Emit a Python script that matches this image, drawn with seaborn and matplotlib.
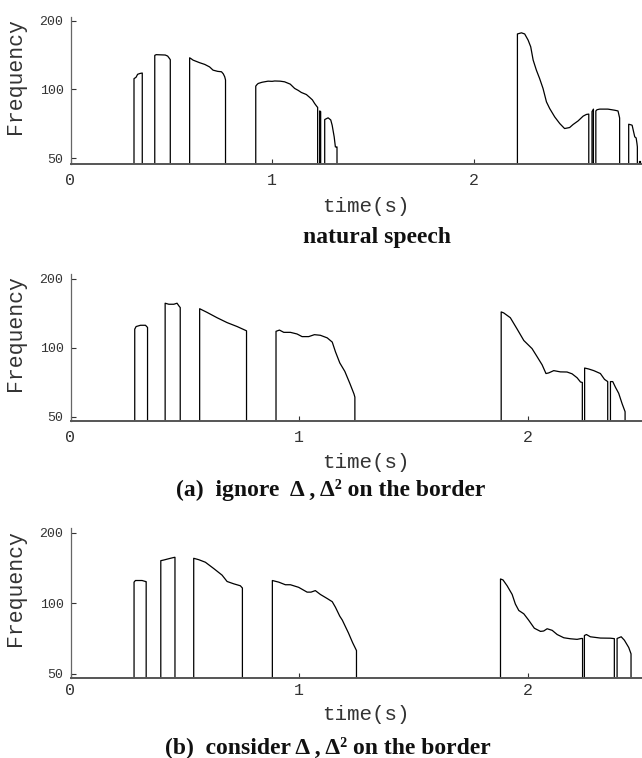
import numpy as np
import pandas as pd
import matplotlib
matplotlib.use("Agg")
import matplotlib.pyplot as plt
import seaborn as sns
from matplotlib.ticker import FixedLocator, FixedFormatter, NullLocator

# ---------------- data (voiced F0 segments, time in s, frequency in Hz) -------------
nat_t = [
    [0.315, 0.325, 0.333, 0.345, 0.356],
    [0.418, 0.425, 0.470, 0.482, 0.490, 0.495],
    [0.591, 0.600, 0.608, 0.640, 0.666, 0.690, 0.707, 0.730, 0.749, 0.758, 0.765, 0.769],
    [0.919, 0.925, 0.931, 0.950, 0.980, 1.000, 1.013, 1.040, 1.062, 1.090, 1.112, 1.130,
     1.145, 1.170, 1.187, 1.200, 1.211, 1.223, 1.226],
    [1.236, 1.241],
    [1.261, 1.270, 1.278, 1.291, 1.298, 1.308, 1.314, 1.320, 1.322],
    [2.217, 2.237, 2.253, 2.270, 2.283, 2.295, 2.311, 2.327, 2.344, 2.361, 2.377, 2.402,
     2.427, 2.451, 2.476, 2.493, 2.518, 2.543, 2.559, 2.571],
    [2.587, 2.594],
    [2.606, 2.612, 2.625, 2.645, 2.666, 2.699, 2.716, 2.721, 2.724],
    [2.769, 2.780, 2.786, 2.799, 2.806, 2.810, 2.812],
    [2.822, 2.826],
]
nat_f = [
    [111.5, 113, 116.5, 117.5, 118],
    [141, 142, 141.5, 140, 137, 135],
    [137.6, 136, 134.4, 131, 128.7, 125.5, 121.5, 120, 119.5, 117, 113.6, 110],
    [103.4, 105, 106.2, 107.5, 108.7, 108.5, 108.9, 108.7, 108, 105.5, 101, 99,
     97, 95, 92.2, 90, 86.8, 84, 83.5],
    [80.5, 80],
    [73.8, 74.5, 75.1, 73.5, 69.7, 62, 56, 56, 56],
    [175, 177, 175, 164.5, 153.7, 134.5, 121.5, 111.7, 101, 88.2, 82.5, 75.8,
     70.9, 67.4, 68.1, 70.2, 72.8, 76.4, 77.7, 78],
    [80, 82],
    [80.5, 81.5, 82, 82, 82, 81.1, 80.5, 77, 75],
    [70.4, 70, 69.7, 62, 61.3, 58, 56],
    [48.5, 48.5],
]

ign_t = [
    [0.281, 0.287, 0.306, 0.328, 0.337],
    [0.414, 0.430, 0.452, 0.466, 0.476, 0.480],
    [0.565, 0.597, 0.641, 0.685, 0.729, 0.770],
    [0.899, 0.914, 0.933, 0.962, 0.991, 1.013, 1.042, 1.067, 1.093, 1.123, 1.145, 1.159,
     1.178, 1.200, 1.222, 1.240, 1.244],
    [1.884, 1.895, 1.924, 1.954, 1.983, 2.019, 2.041, 2.063, 2.080, 2.092, 2.114, 2.143,
     2.172, 2.194, 2.216, 2.231, 2.239],
    [2.249, 2.267, 2.289, 2.318, 2.336, 2.350],
    [2.362, 2.372, 2.384, 2.398, 2.413, 2.426],
]
ign_f = [
    [120.7, 123.9, 125.5, 125.5, 122.8],
    [156.6, 155, 155, 156.6, 151.6, 150],
    [148.2, 142.9, 135.4, 128.9, 123.9, 118.7],
    [118.1, 119.6, 116.9, 116.9, 115, 112, 112, 114.2, 113.5, 110.6, 106, 96.2,
     86, 79, 70, 63, 61],
    [143.5, 142.1, 135.4, 120.7, 107.7, 99.3, 91.6, 84.4, 77.3, 77.8, 79.6, 78.6,
     78.5, 77.1, 74.1, 71, 70.7],
    [81.7, 80.9, 79.6, 77.3, 72.9, 71.3],
    [71.3, 71.3, 67.3, 63.4, 57.1, 52.7],
]

con_t = [
    [0.278, 0.284, 0.313, 0.328, 0.331],
    [0.395, 0.408, 0.437, 0.455, 0.457],
    [0.539, 0.561, 0.590, 0.627, 0.663, 0.685, 0.714, 0.743, 0.752],
    [0.883, 0.911, 0.940, 0.962, 0.998, 1.035, 1.052, 1.071, 1.093, 1.123, 1.145, 1.159,
     1.178, 1.189, 1.216, 1.234, 1.251],
    [1.881, 1.892, 1.910, 1.932, 1.946, 1.961, 1.983, 2.004, 2.029, 2.056, 2.070, 2.085,
     2.107, 2.129, 2.158, 2.187, 2.216, 2.235, 2.240],
    [2.248, 2.257, 2.274, 2.318, 2.362, 2.379],
    [2.391, 2.409, 2.423, 2.442, 2.452],
]
con_f = [
    [122.9, 124.9, 124.9, 123.7, 123.5],
    [151.8, 152.8, 155.4, 156.9, 156.9],
    [155.4, 153.3, 149.5, 140.4, 131.7, 123.7, 120.9, 118.6, 116],
    [124.9, 122.9, 119.8, 119.8, 116.8, 111.4, 111.4, 113.1, 108.9, 104.6, 101.4, 96,
     87.9, 84.6, 74.5, 67.8, 62.7],
    [126.8, 125.6, 118.6, 108.9, 99.1, 93, 90, 84.6, 78.1, 75.7, 76, 77.7,
     76.5, 73.4, 71.1, 70.4, 70, 70.6, 70.6],
    [72.7, 73.4, 71.8, 70.9, 70.8, 70.5],
    [70.6, 71.8, 69.4, 64.6, 60.7],
]

captions = ["natural speech",
            "(a)  ignore  Δ , Δ² on the border",
            "(b)  consider Δ , Δ² on the border"]
y_ticks = [50, 100, 200]
x_ticks = [0, 1, 2]
FLOOR = 30  # unvoiced level (below the visible range)

# ---------------- styling -------------
sns.set_style("ticks")
plt.rcParams["font.family"] = ["Liberation Mono", "DejaVu Sans Mono"]

def to_frame(ts, fs):
    rows = []
    for k, (t, f) in enumerate(zip(ts, fs)):
        tt = [t[0]] + list(t) + [t[-1]]
        ff = [FLOOR] + list(f) + [FLOOR]
        for a, b in zip(tt, ff):
            rows.append((k, a, b))
    return pd.DataFrame(rows, columns=["seg", "time", "freq"])

fig = plt.figure(figsize=(6.42, 7.58), dpi=100)
W, H = 642.0, 758.0
left_px = 70.5
# (top_px, bottom_px, ylim, xlim, xtick pad, xlabel y)
panels = [
    (nat_t, nat_f, 17.3, 164.3, (47, 207), (0, 2.835), 6.5, -0.222),
    (ign_t, ign_f, 274.0, 421.0, (48, 210), (0, 2.50), 6.5, -0.215),
    (con_t, con_f, 527.7, 677.7, (48, 210), (0, 2.50), 3.5, -0.182),
]
cap_pos = [(377, 238), (331, 490), (328, 747)]

for i, (ts, fs, top, bot, ylim, xlim, xpad, xly) in enumerate(panels):
    ax = fig.add_axes([left_px / W, 1 - bot / H, 1 - left_px / W, (bot - top) / H])
    df = to_frame(ts, fs)
    sns.lineplot(data=df, x="time", y="freq", units="seg", estimator=None, sort=False,
                 color="black", linewidth=0.9, ax=ax, legend=False)
    ax.set_yscale("log")
    ax.set_ylim(*ylim)
    ax.set_xlim(*xlim)
    ax.yaxis.set_major_locator(FixedLocator(y_ticks))
    ax.yaxis.set_major_formatter(FixedFormatter([str(v) for v in y_ticks]))
    ax.yaxis.set_minor_locator(NullLocator())
    ax.xaxis.set_major_locator(FixedLocator(x_ticks))
    ax.xaxis.set_major_formatter(FixedFormatter([str(v) for v in x_ticks]))
    sns.despine(ax=ax)
    ax.spines["bottom"].set_color("#555555")
    ax.spines["bottom"].set_linewidth(1.4)
    ax.spines["left"].set_color("#666666")
    ax.spines["left"].set_linewidth(0.9)
    ax.tick_params(axis="x", direction="in", length=3.5, width=0.8, color="#333333",
                   labelsize=12, pad=xpad, labelcolor="#333333")
    ax.tick_params(axis="y", direction="in", length=3.5, width=0.8, color="#333333",
                   labelsize=9.5, pad=5, labelcolor="#333333")
    ax.set_xlabel("time(s)", fontsize=15, color="#333333")
    ax.set_ylabel("Frequency", fontsize=15.5, color="#333333")
    ax.xaxis.set_label_coords(0.517, xly)
    ax.yaxis.set_label_coords(-0.078, 0.6)
    ax.set_facecolor("white")
    cx, cy = cap_pos[i]
    fig.text(cx / W, 1 - cy / H, captions[i], ha="center", va="center",
             fontsize=17, fontweight="bold", color="#111111",
             family=["Liberation Serif", "DejaVu Serif"])

fig.savefig("out.png", dpi=100, facecolor="white")
